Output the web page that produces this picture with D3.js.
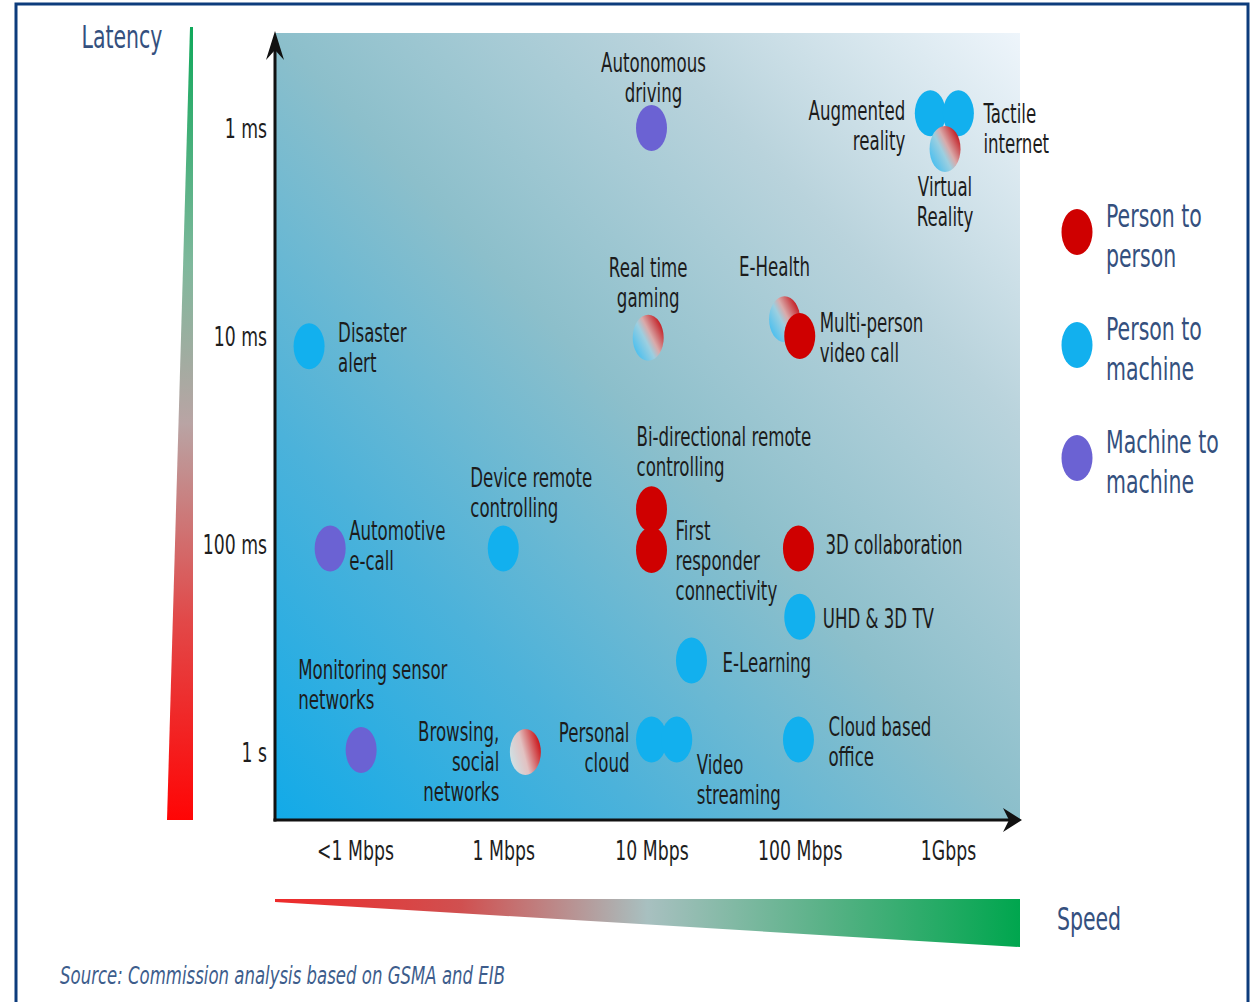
<!DOCTYPE html>
<html>
<head>
<meta charset="utf-8">
<script src="https://cdn.jsdelivr.net/npm/d3@7"></script>
<style>
  body { margin: 0; background: #fff; }
  svg { display: block; font-family: "DejaVu Sans", Verdana, sans-serif; }
</style>
</head>
<body>
<script>
// Latency vs speed requirements of use cases
// x = speed (Mbps, log), y = latency (ms, log)

var speedTicks = [0.1, 1, 10, 100, 1000];
var speedLabels = ["<1 Mbps", "1 Mbps", "10 Mbps", "100 Mbps", "1Gbps"];
var latencyTicks = [1, 10, 100, 1000];
var latencyLabels = ["1 ms", "10 ms", "100 ms", "1 s"];

var kindNames = ["p2p", "p2m", "m2m"];
var legendLabels = [["Person to", "person"], ["Person to", "machine"], ["Machine to", "machine"]];

// use cases (drawing order matters where bubbles overlap)
var services = [
  ["Autonomous", "driving"],
  ["Augmented", "reality"],
  ["Tactile", "internet"],
  ["Virtual", "Reality"],
  ["Real time", "gaming"],
  ["E-Health"],
  ["Multi-person", "video call"],
  ["Disaster", "alert"],
  ["Bi-directional remote", "controlling"],
  ["First", "responder", "connectivity"],
  ["3D collaboration"],
  ["Automotive", "e-call"],
  ["Device remote", "controlling"],
  ["UHD & 3D TV"],
  ["E-Learning"],
  ["Monitoring sensor", "networks"],
  ["Browsing,", "social", "networks"],
  ["Personal", "cloud"],
  ["Video", "streaming"],
  ["Cloud based", "office"]
];
var speeds =    [10, 760, 1175, 955, 9.5, 79, 100, 0.049, 10, 10, 98, 0.068, 1, 100, 18.6, 0.11, 1.41, 10, 14.8, 98];
var latencies = [1, 0.85, 0.85, 1.26, 10.2, 8.3, 10, 11.2, 68, 107, 105, 105, 105, 224, 363, 977, 1000, 871, 871, 871];
var kinds = ["m2m", "p2m", "p2m", "mix", "mix", "mix", "p2p", "p2m", "p2p", "p2p", "p2p", "m2m", "p2m", "p2m", "p2m", "m2m", "web", "p2m", "p2m", "p2m"];

// label placement relative to bubble: anchor, dx, dy of first line
var labelPlace = [
  ["middle", 2, -65], ["end", -25, -3], ["start", 25, 0], ["middle", 0, 38],
  ["middle", 0, -70], ["middle", -10, -53], ["start", 20, -13], ["start", 29, -14],
  ["start", -15, -73], ["start", 24, -19], ["start", 27, -4], ["start", 19, -18],
  ["start", -33, -71], ["start", 23, 2], ["start", 31, 2], ["start", -63, -80],
  ["end", -26, -20], ["end", -22, -7], ["start", 20, 25], ["start", 30, -13]
];

var w = 1258, h = 1002;
var plot = { left: 275, top: 33, right: 1020, bottom: 820 };
var sx = 0.64;          // the original is squeezed horizontally
var rx = 15.5, ry = 23;

var colors = { p2p: "#cf0000", p2m: "#12b0ee", m2m: "#6b62d3", mix: "url(#mixGrad)", web: "url(#webGrad)" };

var x = d3.scaleLog().domain([0.1, 1000]).range([355, 948]);
var y = d3.scaleLog().domain([1, 1000]).range([128, 752]);

var svg = d3.select("body").append("svg")
    .attr("width", w)
    .attr("height", h);

var defs = svg.append("defs");

function grad(id, stops, x1, y1, x2, y2) {
  var g = defs.append("linearGradient").attr("id", id)
      .attr("x1", x1).attr("y1", y1).attr("x2", x2).attr("y2", y2);
  stops.forEach(function(s) { g.append("stop").attr("offset", s[0]).attr("stop-color", s[1]); });
}
grad("bgGrad", [[0, "#12aae8"], [0.25, "#4cb2da"], [0.5, "#8cbfcb"], [0.75, "#b9d3dc"], [1, "#eef5fb"]], 0, 1, 1, 0);
grad("mixGrad", [[0, "#4fc0ee"], [0.4, "#9ccfe0"], [0.6, "#d9aaaa"], [1, "#c42228"]], 0.1, 0.8, 0.9, 0.2);
grad("webGrad", [[0, "#cfe0e4"], [0.45, "#e2c2c2"], [1, "#cc1e22"]], 0.05, 0.7, 0.95, 0.35);
grad("latGrad", [[0, "#0fa85a"], [0.3, "#7fb89c"], [0.5, "#b9a4a4"], [0.75, "#e24848"], [1, "#ff0505"]], 0, 0, 0, 1);
grad("spdGrad", [[0, "#ee2a2a"], [0.25, "#d05050"], [0.5, "#a8c0c0"], [0.75, "#55b184"], [1, "#00a64e"]], 0, 0, 1, 0);

// frame
svg.append("rect")
    .attr("x", 16).attr("y", 4)
    .attr("width", 1232).attr("height", h + 20)
    .attr("fill", "none")
    .attr("stroke", "#0d3c7c")
    .attr("stroke-width", 3);

// plot background
svg.append("rect")
    .attr("x", plot.left).attr("y", plot.top)
    .attr("width", plot.right - plot.left)
    .attr("height", plot.bottom - plot.top)
    .attr("fill", "url(#bgGrad)");

// squeezed multi-line text
function squish(g, px, py, lines, size, anchor, lh, fill, style) {
  var t = g.append("text")
      .attr("transform", "translate(" + px + "," + py + ") scale(" + sx + ",1)")
      .attr("font-size", size)
      .attr("text-anchor", anchor)
      .attr("fill", fill);
  if (style) t.attr("font-style", style);
  lines.forEach(function(l, i) {
    t.append("tspan").attr("x", 0).attr("y", i * lh + size * 0.36).text(l);
  });
  return t;
}

// latency / speed gradient wedges
svg.append("path")
    .attr("d", "M190,27 L193,27 L193,820 L167,820 Z")
    .attr("fill", "url(#latGrad)");
svg.append("path")
    .attr("d", "M275,899 L1020,899 L1020,947 L275,902 Z")
    .attr("fill", "url(#spdGrad)");

squish(svg, 122, 36, ["Latency"], 32, "middle", 0, "#34507e");
squish(svg, 1089, 918, ["Speed"], 32, "middle", 0, "#34507e");

// axes lines with arrows
svg.append("line")
    .attr("x1", plot.left).attr("y1", plot.bottom + 1.5)
    .attr("x2", plot.left).attr("y2", plot.top + 6)
    .attr("stroke", "#111").attr("stroke-width", 3);
svg.append("line")
    .attr("x1", plot.left - 1.5).attr("y1", plot.bottom)
    .attr("x2", plot.right - 4).attr("y2", plot.bottom)
    .attr("stroke", "#111").attr("stroke-width", 3);
svg.append("path")
    .attr("d", "M" + (plot.left - 9) + "," + (plot.top + 27) + " L" + plot.left + "," + (plot.top - 2) +
               " L" + (plot.left + 9) + "," + (plot.top + 27) + " L" + plot.left + "," + (plot.top + 17) + " Z")
    .attr("fill", "#111");
svg.append("path")
    .attr("d", "M" + (plot.right - 17) + "," + (plot.bottom - 12) + " L" + (plot.right + 2) + "," + plot.bottom +
               " L" + (plot.right - 17) + "," + (plot.bottom + 12) + " L" + (plot.right - 11) + "," + plot.bottom + " Z")
    .attr("fill", "#111");

// tick labels
var xAxis = svg.append("g")
    .attr("transform", "translate(0," + plot.bottom + ")")
    .call(d3.axisBottom(x).tickValues(speedTicks).tickFormat(function(d, i) { return speedLabels[i]; }).tickSize(0));
xAxis.select(".domain").remove();
xAxis.selectAll(".tick text")
    .attr("font-size", 27).attr("font-family", "DejaVu Sans").attr("fill", "#1e1e1e")
    .attr("y", 30).attr("dy", "0.36em")
    .attr("transform", "scale(" + sx + ",1)");

var yAxis = svg.append("g")
    .attr("transform", "translate(" + plot.left + ",0)")
    .call(d3.axisLeft(y).tickValues(latencyTicks).tickFormat(function(d, i) { return latencyLabels[i]; }).tickSize(0));
yAxis.select(".domain").remove();
yAxis.selectAll(".tick text")
    .attr("font-size", 27).attr("font-family", "DejaVu Sans").attr("fill", "#1e1e1e")
    .attr("x", -8 / sx).attr("dy", "0.36em")
    .attr("transform", "scale(" + sx + ",1)");

// bubbles
svg.append("g").selectAll("ellipse")
    .data(services)
    .enter()
    .append("ellipse")
    .attr("cx", function(d, i) { return x(speeds[i]); })
    .attr("cy", function(d, i) { return y(latencies[i]); })
    .attr("rx", rx)
    .attr("ry", ry)
    .attr("fill", function(d, i) { return colors[kinds[i]]; });

// labels
var labels = svg.append("g");
services.forEach(function(lines, i) {
  var p = labelPlace[i];
  squish(labels, x(speeds[i]) + p[1], y(latencies[i]) + p[2], lines, 26, p[0], 30, "#1c1c1c");
});

// legend
var legend = svg.append("g");
kindNames.forEach(function(k, i) {
  var cy = 232 + i * 113;
  legend.append("ellipse")
      .attr("cx", 1077).attr("cy", cy)
      .attr("rx", rx).attr("ry", ry)
      .attr("fill", colors[k]);
  squish(legend, 1106, cy - 17, legendLabels[i], 32, "start", 40, "#34507e");
});

// source
var src = svg.append("text")
    .attr("transform", "translate(60,975) scale(0.69,1)")
    .attr("font-size", 24)
    .attr("font-style", "italic")
    .attr("fill", "#3d5d8c")
    .attr("dy", "0.36em")
    .text("Source: Commission analysis based on GSMA and EIB");
</script>
</body>
</html>
